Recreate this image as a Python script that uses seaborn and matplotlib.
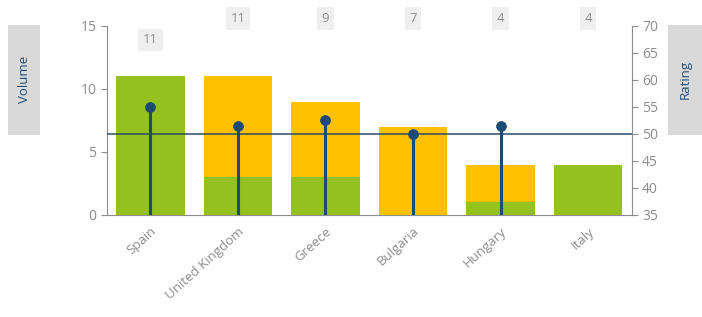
import numpy as np
import pandas as pd
import matplotlib
matplotlib.use("Agg")
import matplotlib.pyplot as plt
from matplotlib.patches import Rectangle
import seaborn as sns

# --- chart data ---
countries = ["Spain", "United Kingdom", "Greece", "Bulgaria", "Hungary", "Italy"]
green_vol = [11, 3, 3, 0, 1, 4]
orange_vol = [0, 8, 6, 7, 3, 0]
ratings = [55, 51.5, 52.5, 50, 51.5, np.nan]
rating_ref = 50
totals = [g + o for g, o in zip(green_vol, orange_vol)]

GREEN = "#95c11f"
ORANGE = "#ffc000"
NAVY = "#1b4a72"
GREY = "#8c8c8c"

sns.set_style("white")
plt.rcParams["font.family"] = ["Open Sans", "DejaVu Sans"]

df = pd.DataFrame({"country": countries, "green": green_vol,
                   "total": totals, "rating": ratings})
x = np.arange(len(countries))

fig = plt.figure(figsize=(7.02, 3.17), dpi=100)
ax = fig.add_axes([0.152, 0.322, 0.748, 0.596])

# stacked bars: orange total then green on top of it
sns.barplot(data=df, x="country", y="total", color=ORANGE, saturation=1,
            width=0.78, linewidth=0, ax=ax)
sns.barplot(data=df, x="country", y="green", color=GREEN, saturation=1,
            width=0.78, linewidth=0, ax=ax)

ax.set_ylim(0, 15)
ax.set_yticks([0, 5, 10, 15])
ax.set_xlim(-0.5, len(countries) - 0.5)
ax.set_xlabel("")
ax.set_ylabel("")
ax.set_xticks(x)
ax.set_xticklabels(countries, rotation=42, ha="right", rotation_mode="anchor",
                   color=GREY, fontsize=9.5)
ax.tick_params(axis="x", length=0, pad=7)
ax.set_xticks(np.arange(-0.5, len(countries)), minor=True)
ax.tick_params(axis="x", which="minor", length=4, color=GREY, direction="out")
ax.tick_params(axis="y", colors=GREY, labelsize=10, length=4, direction="out", left=True)
for s in ["top", "right"]:
    ax.spines[s].set_visible(False)
for s in ["left", "bottom"]:
    ax.spines[s].set_color(GREY)
    ax.spines[s].set_linewidth(0.8)

# rating axis with lollipops
ax2 = ax.twinx()
ax2.set_ylim(35, 70)
ax2.set_yticks(range(35, 71, 5))
ok = df["rating"].notna()
ax2.vlines(x[ok], 35, df["rating"][ok], color=NAVY, lw=2.2, zorder=3)
sns.scatterplot(x=x[ok], y=df["rating"][ok], color=NAVY, s=50, edgecolor=NAVY,
                zorder=4, ax=ax2, legend=False)
ax2.axhline(rating_ref, color="#2e4a66", lw=1.1, zorder=2)
ax2.set_ylabel("")
ax2.tick_params(axis="y", colors=GREY, labelsize=10, length=4, direction="out", right=True)
ax2.spines["top"].set_visible(False)
ax2.spines["left"].set_visible(False)
ax2.spines["bottom"].set_visible(False)
ax2.spines["right"].set_color(GREY)
ax2.spines["right"].set_linewidth(0.8)

# total labels above bars
label_y = [13.9] + [15.6] * (len(countries) - 1)
for xi, ly, t in zip(x, label_y, totals):
    ax.text(xi, ly, str(t), ha="center", va="center", color=GREY, fontsize=9.5,
            clip_on=False,
            bbox=dict(boxstyle="square,pad=0.35", fc="#efefef", ec="none"))

# axis titles in grey boxes
for x0, w, label in [(0.0114, 0.046, "Volume"), (0.952, 0.048, "Rating")]:
    fig.add_artist(Rectangle((x0, 0.574), w, 0.347, transform=fig.transFigure,
                             fc="#d9d9d9", ec="none"))
    fig.text(x0 + w / 2, 0.75, label, rotation=90, ha="center", va="center",
             color="#1f4e79", fontsize=9.5)

fig.savefig("out.png", dpi=100)
